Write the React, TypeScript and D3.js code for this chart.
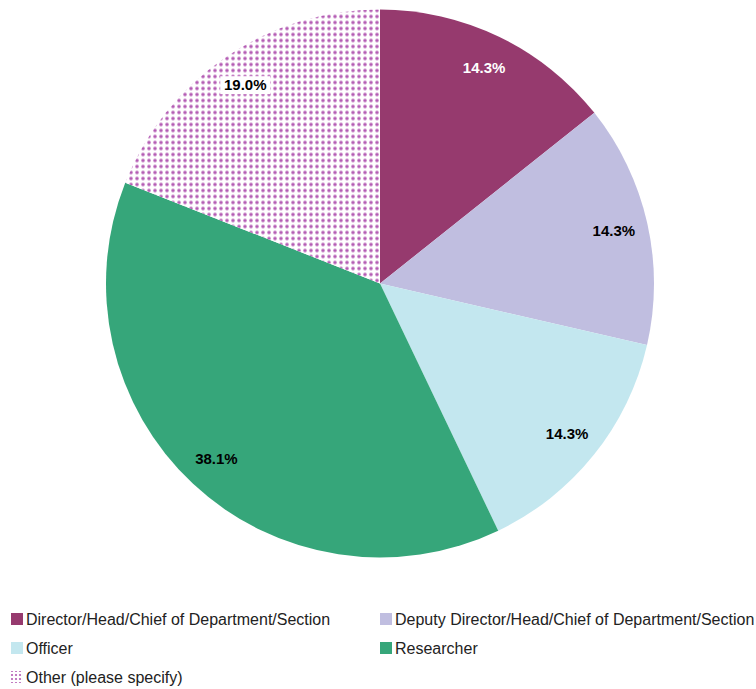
import React from "react";
import * as d3 from "d3";

const categories = [
  "Director/Head/Chief of Department/Section",
  "Deputy Director/Head/Chief of Department/Section",
  "Officer",
  "Researcher",
  "Other (please specify)",
];
const values = [14.3, 14.3, 14.3, 38.1, 19.0];
const labels = ["14.3%", "14.3%", "14.3%", "38.1%", "19.0%"];
const colors = ["#963a6e", "#c0bee0", "#c3e7ef", "#36a67a", "url(#dots)"];
const labelColors = ["#ffffff", "#000000", "#000000", "#000000", "#000000"];

export default function App() {
  const width = 756;
  const height = 689;
  const cx = 380;
  const cy = 283.5;
  const r = 274;
  const pie = d3.pie<number>().sort(null).value((d) => d);
  const arcs = pie(values);
  const arc = d3.arc<d3.PieArcDatum<number>>().innerRadius(0).outerRadius(r);
  const labelArc = d3.arc<d3.PieArcDatum<number>>().innerRadius(r * 0.875).outerRadius(r * 0.875);

  const legendPos = [
    [11, 619],
    [380, 619],
    [11, 648],
    [380, 648],
    [11, 677],
  ];

  return (
    <svg
      width={width}
      height={height}
      style={{ position: "absolute", left: 0, top: 0, fontFamily: "'Liberation Sans', Arial, sans-serif" }}
    >
      <defs>
        <pattern id="dots" width={6} height={6} patternUnits="userSpaceOnUse" x={0} y={0}>
          <rect width={6} height={6} fill="#ffffff" />
          <circle cx={3} cy={3} r={1.8} fill="#b45db4" />
        </pattern>
        <pattern id="dotsLegend" width={4} height={4} patternUnits="userSpaceOnUse" x={11} y={0}>
          <rect width={4} height={4} fill="#ffffff" />
          <circle cx={2} cy={2} r={1.1} fill="#b45db4" />
        </pattern>
      </defs>
      <g transform={`translate(${cx},${cy})`}>
        {arcs.map((a, i) => (
          <path key={i} d={arc(a) || ""} fill={colors[i]} />
        ))}
        {arcs.map((a, i) => {
          const [lx, ly] = labelArc.centroid(a);
          const isOther = i === 4;
          return (
            <g key={"l" + i} transform={`translate(${lx},${ly})`}>
              {isOther && <rect x={-25} y={-9} width={50} height={18} fill="#ffffff" />}
              <text
                textAnchor="middle"
                dy="0.35em"
                fontSize={15}
                fontWeight="bold"
                fill={labelColors[i]}
              >
                {labels[i]}
              </text>
            </g>
          );
        })}
      </g>
      {categories.map((c, i) => {
        const [x, y] = legendPos[i];
        return (
          <g key={"lg" + i} transform={`translate(${x},${y})`}>
            <rect
              x={0}
              y={-6}
              width={12}
              height={12}
              fill={i === 4 ? "url(#dotsLegend)" : colors[i]}
            />
            <text x={15} y={0} dy="0.35em" fontSize={16} fill="#222">
              {c}
            </text>
          </g>
        );
      })}
    </svg>
  );
}
